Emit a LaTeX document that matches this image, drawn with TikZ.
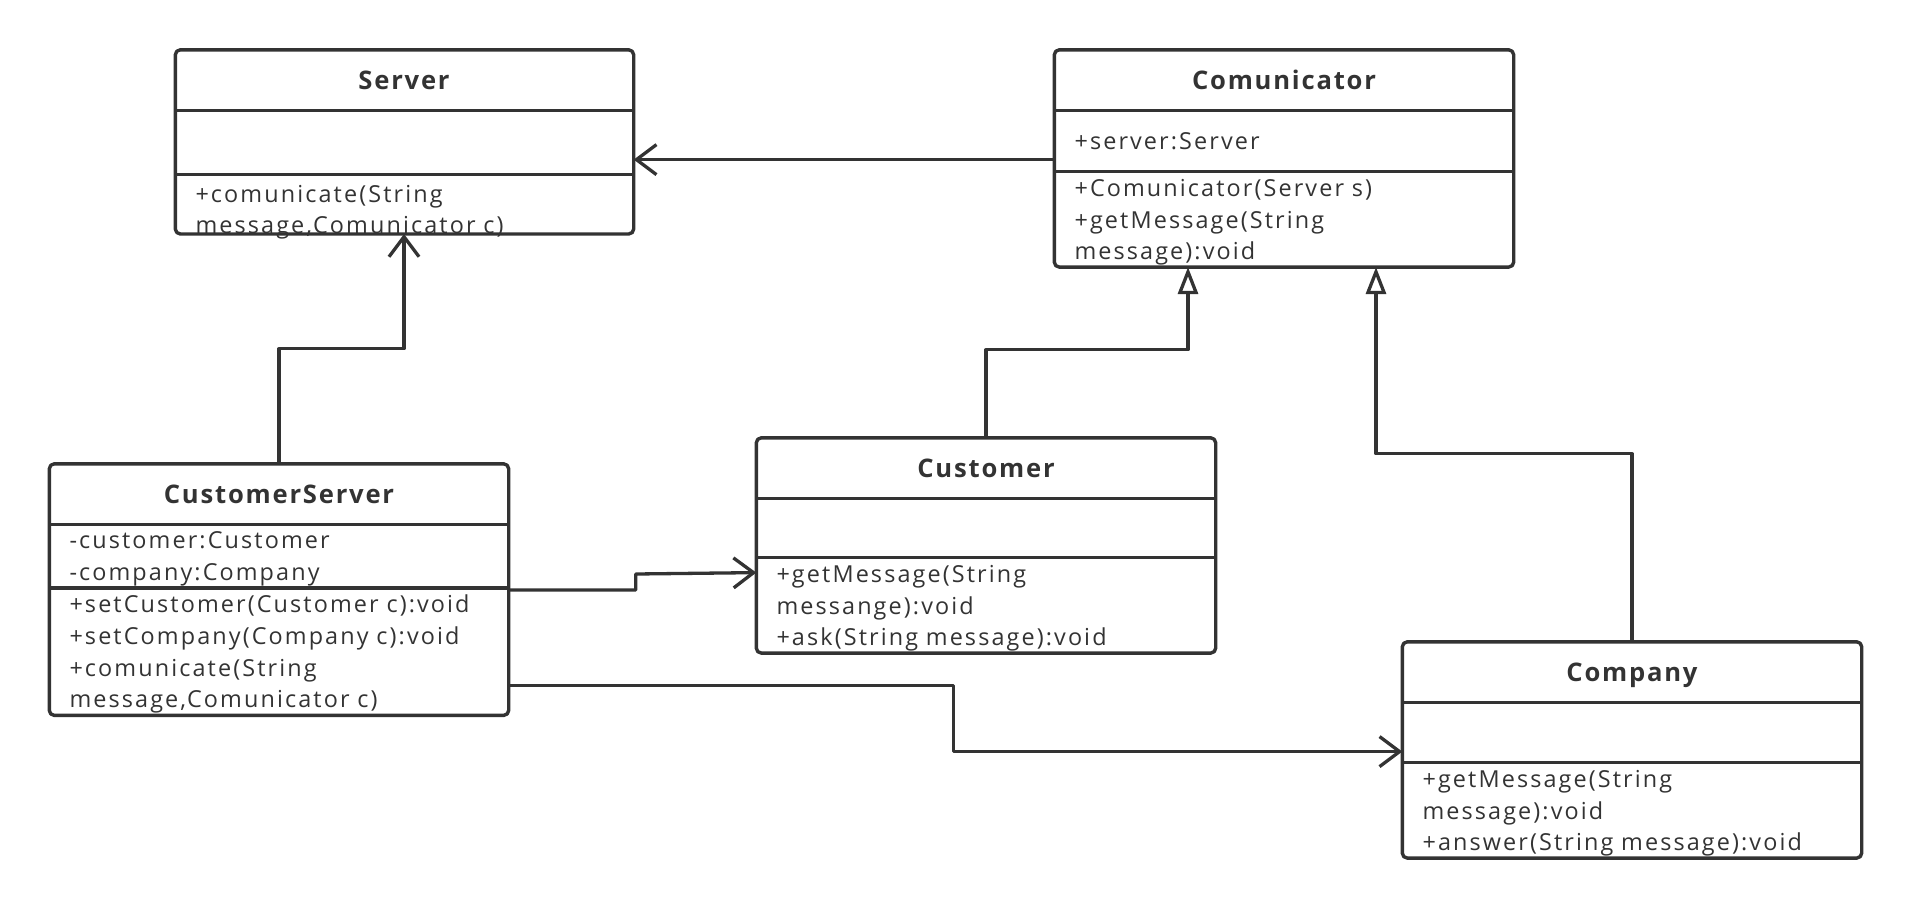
\documentclass[tikz,border=0pt]{standalone}
\usepackage{fontspec}
\setmainfont{Open Sans}[LetterSpace=9]
\newfontfamily\titlefont{Open Sans}[LetterSpace=7]
\usetikzlibrary{positioning,arrows.meta}
\definecolor{ink}{HTML}{333333}
\newcommand\lstrut{\rule[-7.2pt]{0pt}{31.7pt}}

\tikzset{
  box/.style={inner xsep=20pt, inner ysep=0pt, minimum width=459pt, text=ink},
  head/.style={box, minimum height=60pt, text height=18.3pt, text depth=0pt,
    font=\titlefont\bfseries\fontsize{25.6}{30}\selectfont},
  part/.style={box, text width=419pt, align=left, font=\fontsize{23.4}{31.7}\selectfont},
  frame/.style={draw=ink, line width=3.4pt},
  assoc/.style={draw=ink, line width=3.3pt, -{Straight Barb[length=20pt,width=30pt]}},
  gen/.style={draw=ink, line width=3.3pt, -{Triangle[open,length=27pt,width=20pt]}}
}

\begin{document}
\begin{tikzpicture}[x=1pt,y=-1pt,line join=round]
\useasboundingbox (0,0) rectangle (1912,908);

% Server
\node[head, minimum width=457pt] (serh) at (404,80) {Server};
\node[part, minimum height=64pt, text width=417pt, below=0pt of serh] (sera) {};
\node[part, minimum height=59pt, text width=417pt, below=0pt of sera] (sero)
  {\lstrut+comunicate(String\\\lstrut message,Comunicator c)\par\kern-10pt};

% Comunicator
\node[head] (comh) at (1284,80) {Comunicator};
\node[part, minimum height=61pt, below=0pt of comh] (coma) {\lstrut+server:Server};
\node[part, minimum height=94pt, below=0pt of coma] (como)
  {\lstrut+Comunicator(Server s)\\\lstrut+getMessage(String\\\lstrut message):void};

% CustomerServer
\node[head] (csh) at (279,494) {CustomerServer};
\node[part, minimum height=63pt, below=0pt of csh] (csa)
  {\lstrut-customer:Customer\\\lstrut-company:Company};
\node[part, minimum height=127pt, below=0pt of csa] (cso)
  {\lstrut+setCustomer(Customer c):void\\\lstrut+setCompany(Company c):void\\
   \lstrut+comunicate(String\\\lstrut message,Comunicator c)};

% Customer
\node[head] (cush) at (986,468) {Customer};
\node[part, minimum height=59pt, below=0pt of cush] (cusa) {};
\node[part, minimum height=95pt, below=0pt of cusa] (cuso)
  {\lstrut+getMessage(String\\\lstrut messange):void\\\lstrut+ask(String message):void};

% Company
\node[head] (cmph) at (1632,672) {Company};
\node[part, minimum height=60pt, below=0pt of cmph] (cmpa) {};
\node[part, minimum height=95pt, below=0pt of cmpa] (cmpo)
  {\lstrut+getMessage(String\\\lstrut message):void\\\lstrut+answer(String message):void};

\foreach \nm in {ser,com,cs,cus,cmp}{
  \draw[frame, rounded corners=5pt] (\nm h.north west) rectangle (\nm o.south east);
  \draw[frame] (\nm h.south west) -- (\nm h.south east)
    (\nm a.south west) -- (\nm a.south east);
}

\coordinate (c1) at ([yshift=12pt]coma.south west);
\draw[assoc] (c1) -- (c1 -| sera.east);
\draw[assoc] (csh.north) -- ++(0,-115) -| (sero.south);
\draw[gen] (cush.north) -- ++(0,-88) -| ([xshift=-96pt]como.south);
\draw[gen] (cmph.north) -- ++(0,-188) -| ([xshift=92pt]como.south);
\draw[assoc] ([yshift=-2pt]csa.south east) -- ++(127,0) -- ++(0,-16)
  -- ([yshift=-15pt]cuso.north west);
\draw[assoc] ([yshift=30pt]cso.south east) -- ++(445,0)
  |- ([yshift=11pt]cmpa.south west);
\end{tikzpicture}
\end{document}
